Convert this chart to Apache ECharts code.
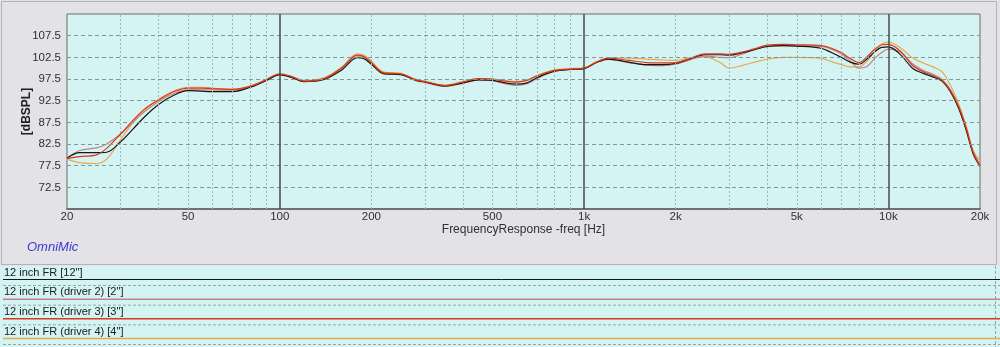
<!DOCTYPE html>
<html><head><meta charset="utf-8">
<script src="https://cdn.jsdelivr.net/npm/echarts@6/dist/echarts.min.js"></script>
<style>html,body{margin:0;padding:0;background:#e3e2e7;overflow:hidden}#c{width:1000px;height:347px}</style>
</head><body><div id="c"></div>
<script>
const freqs = [20,22,25,27,30,33,36,40,45,50,55,60,70,80,90,100,110,120,140,160,180,190,200,220,250,280,300,350,400,450,500,550,600,650,700,800,900,1000,1100,1200,1400,1600,1800,2000,2200,2500,2800,3000,3300,3600,4000,4500,5000,6000,6500,7000,7500,8000,8500,9000,9500,10000,11000,12000,13000,14000,15000,16000,17000,18000,19000,20000];
const fr12 = [79.2,80.5,80.5,80.6,83.0,86.0,88.8,91.6,93.8,94.8,94.7,94.6,94.6,95.6,97.1,98.5,97.8,96.9,97.4,99.6,102.4,102.1,100.9,98.7,98.5,97.2,96.8,95.9,96.6,97.3,97.2,96.6,96.3,96.6,97.8,99.3,99.7,99.9,101.3,102.1,101.4,100.8,100.8,101.1,102.0,103.1,103.1,103.0,103.5,104.2,105.0,105.2,105.1,104.6,103.6,102.5,101.4,100.9,102.1,103.7,104.8,104.9,103.0,100.0,98.8,98.0,97.0,94.5,90.8,85.8,80.2,77.4];
const frDriver2 = [79.2,81.0,81.6,82.5,84.8,87.6,90.0,92.3,94.2,95.0,95.0,95.0,94.9,95.7,97.1,98.4,97.8,97.0,97.6,100.0,102.6,102.3,101.0,98.8,98.6,97.1,96.7,95.8,96.5,97.3,97.1,96.4,96.0,96.4,97.6,99.3,99.7,99.9,101.3,102.0,101.3,100.7,100.6,100.9,101.8,102.8,102.5,102.4,103.2,104.2,105.0,105.2,105.2,105.0,104.4,103.3,101.6,100.0,100.4,102.2,103.6,104.4,103.6,101.0,99.5,98.6,97.4,95.0,91.2,86.2,80.8,77.8];
const frDriver3 = [79.2,79.6,80.0,81.5,84.8,88.0,90.6,92.7,94.6,95.4,95.4,95.3,95.1,95.8,97.3,98.7,98.0,97.0,97.6,100.1,103.0,102.6,101.3,98.9,98.7,97.3,96.9,96.0,96.8,97.6,97.5,97.0,96.8,97.2,98.2,99.5,99.8,100.0,101.4,102.3,101.8,101.3,101.2,101.3,102.1,103.3,103.3,103.2,103.7,104.4,105.3,105.5,105.4,105.2,104.6,103.6,102.2,101.3,102.6,104.3,105.4,105.5,103.8,100.6,99.2,98.3,97.2,94.8,91.2,86.3,80.5,77.4];
const frDriver4 = [79.0,78.2,78.0,79.0,83.5,87.5,90.4,92.8,94.8,95.6,95.6,95.4,95.1,95.9,97.3,98.6,98.0,97.2,97.8,100.3,103.3,102.9,101.6,99.1,98.8,97.4,97.0,96.1,96.9,97.6,97.5,97.1,96.9,97.3,98.3,99.6,99.9,100.1,101.5,102.3,102.3,102.1,101.9,101.8,102.3,102.6,101.3,100.0,100.6,101.3,102.1,102.5,102.5,102.3,101.5,100.8,100.3,100.3,101.6,103.8,105.5,106.0,104.6,102.4,101.2,100.3,99.2,96.0,91.8,86.8,81.0,78.6];
const seriesNames = ['12 inch FR [12"]','12 inch FR (driver 2) [2"]','12 inch FR (driver 3) [3"]','12 inch FR (driver 4) [4"]'];
const seriesColors = ['#151515','#c48282','#d8381c','#e9a84c'];
const xTickLabels = [20,50,100,200,500,1000,2000,5000,10000,20000];
const yTickLabels = [72.5,77.5,82.5,87.5,92.5,97.5,102.5,107.5];
const majorFreqLines = [100,1000,10000];
const minorFreqLines = [30,40,50,60,70,80,90,200,300,400,500,600,700,800,900,2000,3000,4000,5000,6000,7000,8000,9000];

const seriesData = [fr12, frDriver2, frDriver3, frDriver4];
const chart = echarts.init(document.getElementById('c'), null, {renderer:'canvas'});
const FONT = '"Liberation Sans", Arial, sans-serif';

const gridMarks = [];
minorFreqLines.forEach(f => gridMarks.push({xAxis: f, lineStyle: {color:'#9fb6b6', width:1, type:[2,2]}}));
yTickLabels.forEach(v => gridMarks.push({yAxis: v, lineStyle: {color:'#7f9999', width:1, type:[4,3]}}));
majorFreqLines.forEach(f => gridMarks.push({xAxis: f, lineStyle: {color:'#4a4a4a', width:1.5, type:'solid'}}));

const series = [{
  type:'line', name:'grid', data:[], z:1, silent:true,
  markLine:{silent:true, symbol:['none','none'], label:{show:false}, animation:false, emphasis:{disabled:true}, data: gridMarks}
}];
const order = [3,1,0,2];
order.forEach(i => {
  series.push({
    type:'line', name: seriesNames[i], showSymbol:false, smooth:0.35, z: 3,
    lineStyle:{color: seriesColors[i], width:1.2},
    itemStyle:{color: seriesColors[i]},
    data: freqs.map((f,k) => [f, seriesData[i][k]])
  });
});

const graphics = [
  {type:'rect', silent:true, z:-10, shape:{x:1.5,y:1.5,width:995,height:263}, style:{fill:'#e3e2e7', stroke:'#b4b4b8', lineWidth:1}},
  {type:'rect', silent:true, z:-10, shape:{x:0,y:266,width:1000,height:81}, style:{fill:'#d4f3f3'}},
  {type:'line', silent:true, z:-9, shape:{x1:995.5,y1:266,x2:995.5,y2:347}, style:{stroke:'#8fa8a8', lineWidth:1, lineDash:[3,2]}},
  {type:'text', silent:true, style:{text:'OmniMic', x:27, y:247, fill:'#3a3ad0', font:'italic 13px ' + FONT, verticalAlign:'middle', textVerticalAlign:'middle'}}
];
seriesNames.forEach((name, i) => {
  const ly = 279.5 + i * 19.67;
  graphics.push({type:'text', silent:true, style:{text:name, x:4, y:ly-7, fill:'#202020', font:'11px ' + FONT, verticalAlign:'middle', textVerticalAlign:'middle'}});
  graphics.push({type:'line', silent:true, shape:{x1:3,y1:ly,x2:1000,y2:ly}, style:{stroke:seriesColors[i], lineWidth: i===0?1:1.5}});
  graphics.push({type:'line', silent:true, shape:{x1:3,y1:ly+6,x2:1000,y2:ly+6}, style:{stroke:'#8fa8a8', lineWidth:1, lineDash:[3,2]}});
});

chart.setOption({
  animation:false,
  backgroundColor:'#e3e2e7',
  grid:{left:67, right:20, top:14, bottom:138, show:true, backgroundColor:'#d4f3f3', borderColor:'#6a6a6a', borderWidth:1},
  xAxis:{
    type:'log', logBase:10, min:20, max:20000,
    name:'FrequencyResponse -freq [Hz]', nameLocation:'middle', nameGap:15, nameMoveOverlap:false,
    nameTextStyle:{color:'#303030', fontSize:12, fontFamily:FONT},
    axisLine:{show:true, lineStyle:{color:'#707070', width:2}},
    axisTick:{show:false}, splitLine:{show:false}, minorSplitLine:{show:false},
    axisLabel:{customValues:xTickLabels, margin:2, color:'#303030', fontSize:11.5, fontFamily:FONT,
      formatter: v => v >= 1000 ? (Math.round(v/1000) + 'k') : String(Math.round(v))}
  },
  yAxis:{
    type:'value', min:67.5, max:112.5,
    name:'[dBSPL]', nameLocation:'middle', nameGap:34, nameRotate:90, nameMoveOverlap:false,
    nameTextStyle:{color:'#202020', fontSize:12, fontWeight:'bold', fontFamily:FONT},
    axisLine:{show:false}, axisTick:{show:false}, splitLine:{show:false},
    axisLabel:{customValues:yTickLabels, margin:6, color:'#303030', fontSize:11.5, fontFamily:FONT,
      formatter: v => v.toFixed(1)}
  },
  graphic: graphics,
  series: series
});
</script>
</body></html>
